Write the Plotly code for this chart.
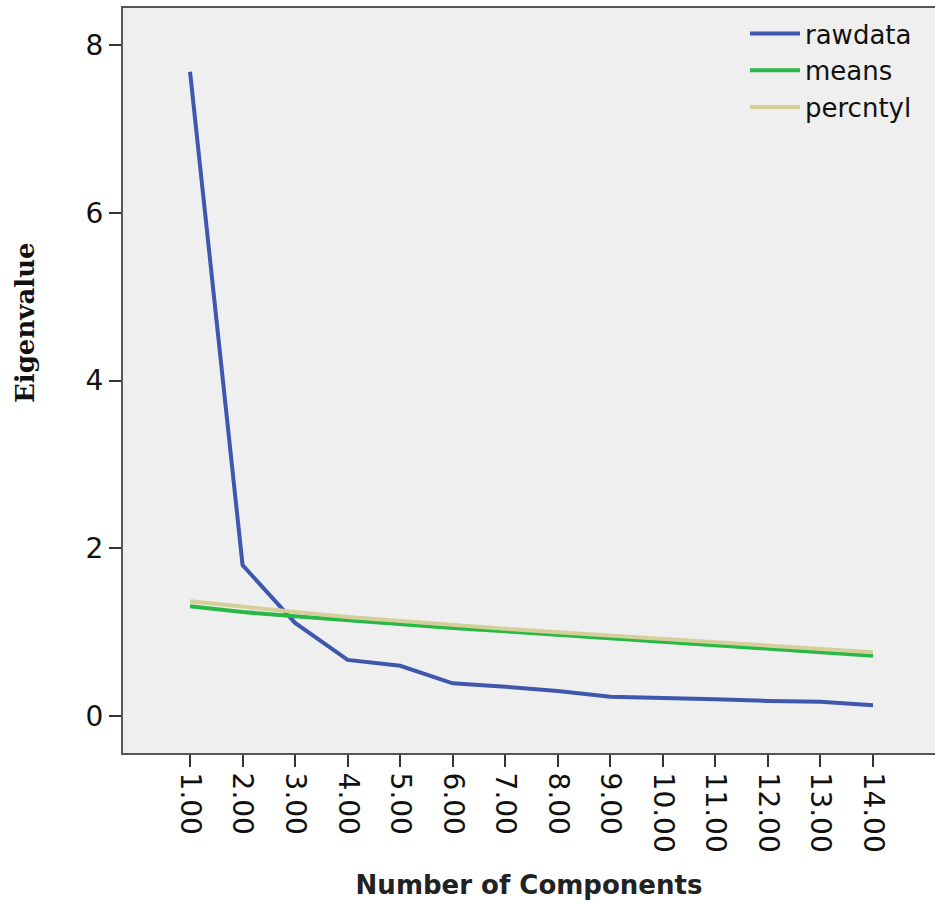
import plotly.graph_objects as go

components = [1, 2, 3, 4, 5, 6, 7, 8, 9, 10, 11, 12, 13, 14]
tick_labels = ["1.00", "2.00", "3.00", "4.00", "5.00", "6.00", "7.00",
               "8.00", "9.00", "10.00", "11.00", "12.00", "13.00", "14.00"]
rawdata = [7.68, 1.80, 1.11, 0.67, 0.60, 0.39, 0.35, 0.30, 0.23, 0.22, 0.20, 0.18, 0.17, 0.13]
means = [1.31, 1.24, 1.19, 1.14, 1.09, 1.05, 1.01, 0.97, 0.93, 0.89, 0.85, 0.81, 0.77, 0.72]
percntyl = [1.37, 1.30, 1.24, 1.18, 1.13, 1.08, 1.04, 1.00, 0.96, 0.92, 0.88, 0.84, 0.80, 0.76]
y_ticks = [0, 2, 4, 6, 8]

W, H = 935, 904
L, T, B, R = 123, 8, 151, 0
pw = W - L - R
ph = H - T - B

fig = go.Figure()
fig.add_trace(go.Scatter(x=components, y=rawdata, name="rawdata", mode="lines",
                         line=dict(color="#3f58ad", width=4)))
fig.add_trace(go.Scatter(x=components, y=means, name="means", mode="lines",
                         line=dict(color="#27b845", width=4)))
fig.add_trace(go.Scatter(x=components, y=percntyl, name="percntyl", mode="lines",
                         line=dict(color="#d5d09a", width=4)))

fig.update_layout(
    width=W, height=H,
    margin=dict(l=L, r=R, t=T, b=B, pad=0),
    paper_bgcolor="white",
    plot_bgcolor="#efefef",
    showlegend=True,
    legend=dict(x=(745 - L) / pw, y=1 - (10 - T) / ph, xanchor="left", yanchor="top",
                bgcolor="rgba(0,0,0,0)", font=dict(family="DejaVu Sans", size=26, color="#111"),
                tracegroupgap=0, itemwidth=50),
    xaxis=dict(
        range=[-0.276, 15.18],
        tickvals=components, ticktext=tick_labels, tickangle=90,
        ticks="outside", ticklen=12, tickwidth=2, tickcolor="#333",
        showline=True, linecolor="#555", linewidth=2, mirror=True,
        showgrid=False, zeroline=False,
        tickfont=dict(family="DejaVu Sans", size=28, color="#111"),
        title=dict(text="<b>Number of Components</b>",
                   font=dict(family="DejaVu Sans", size=26, color="#222"),
                   standoff=24),
    ),
    yaxis=dict(
        range=[-0.44, 8.44],
        tickvals=y_ticks, ticktext=[str(v) for v in y_ticks],
        ticks="outside", ticklen=12, tickwidth=2, tickcolor="#333",
        showline=True, linecolor="#555", linewidth=2,
        showgrid=False, zeroline=False,
        tickfont=dict(family="DejaVu Sans", size=28, color="#111"),
    ),
    annotations=[dict(
        text="<b>Eigenvalue</b>", textangle=-90,
        xref="paper", yref="paper",
        x=(25 - L) / pw, y=1 - (323 - T) / ph,
        xanchor="center", yanchor="middle", showarrow=False,
        font=dict(family="DejaVu Serif", size=26, color="#111"),
    )],
)

fig.write_html("out.html")
